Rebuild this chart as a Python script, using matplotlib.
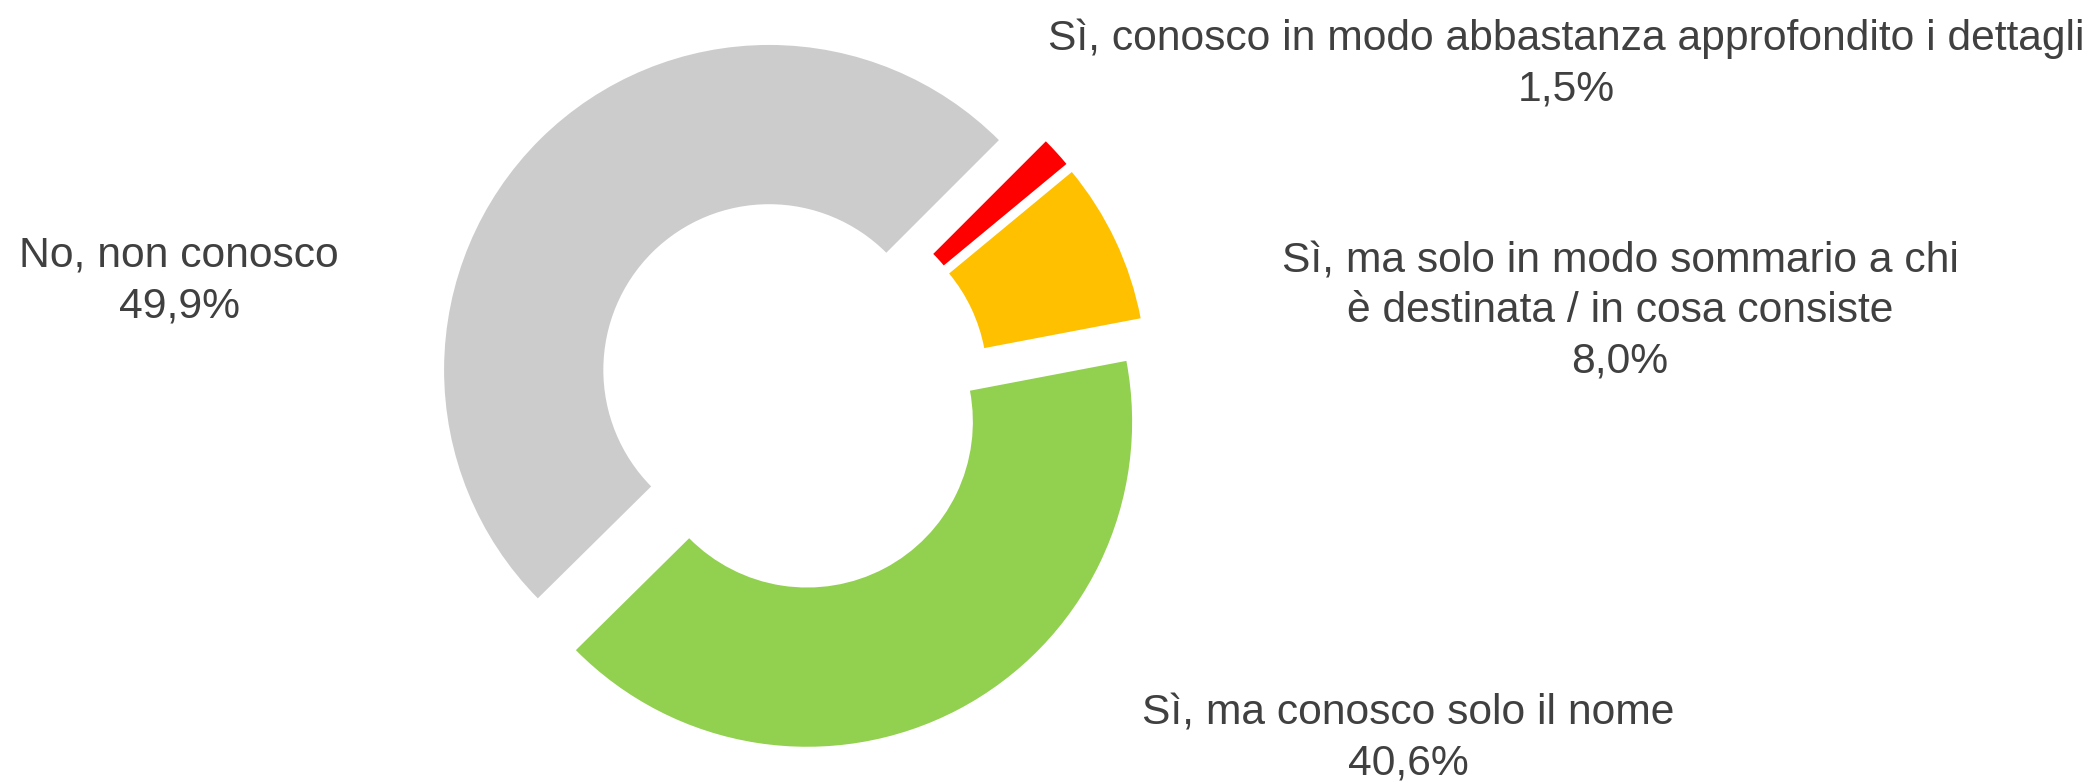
import matplotlib
matplotlib.use("Agg")
import matplotlib.pyplot as plt

labels = ["Sì, conosco in modo abbastanza approfondito i dettagli",
          "Sì, ma solo in modo sommario a chi\nè destinata / in cosa consiste",
          "Sì, ma conosco solo il nome",
          "No, non conosco"]
values = [1.5, 8.0, 40.6, 49.9]
value_labels = ["1,5%", "8,0%", "40,6%", "49,9%"]
colors = ["#FF0000", "#FFC000", "#92D050", "#CCCCCC"]

W, H = 2094, 781
fig = plt.figure(figsize=(W / 100, H / 100), dpi=100)
ax = fig.add_axes([0, 0, 1, 1])

cx, cy, R = 792, 393, 325  # pixel geometry of the donut
ax.pie(values, colors=colors, startangle=45, counterclock=False,
       explode=[0.1] * len(values),
       wedgeprops=dict(width=0.49, edgecolor="none", linewidth=0))
ax.set_xlim(-cx / R, (W - cx) / R)
ax.set_ylim(-(H - cy) / R, cy / R)
ax.set_aspect("equal")
ax.axis("off")

# label placements in pixels: (x center, first baseline)
label_pos = [(1566, 50), (1620, 272), (1408, 725), (179, 267)]
line_h = 50
tc = "#404040"
for lab, val, (x, y) in zip(labels, value_labels, label_pos):
    lines = lab.split("\n") + [val]
    for i, ln in enumerate(lines):
        fig.text(x / W, 1 - (y + i * line_h) / H, ln, ha="center", va="baseline",
                 fontsize=30.7, color=tc, family=["Liberation Sans", "DejaVu Sans"])

fig.savefig("out.png", dpi=100)
